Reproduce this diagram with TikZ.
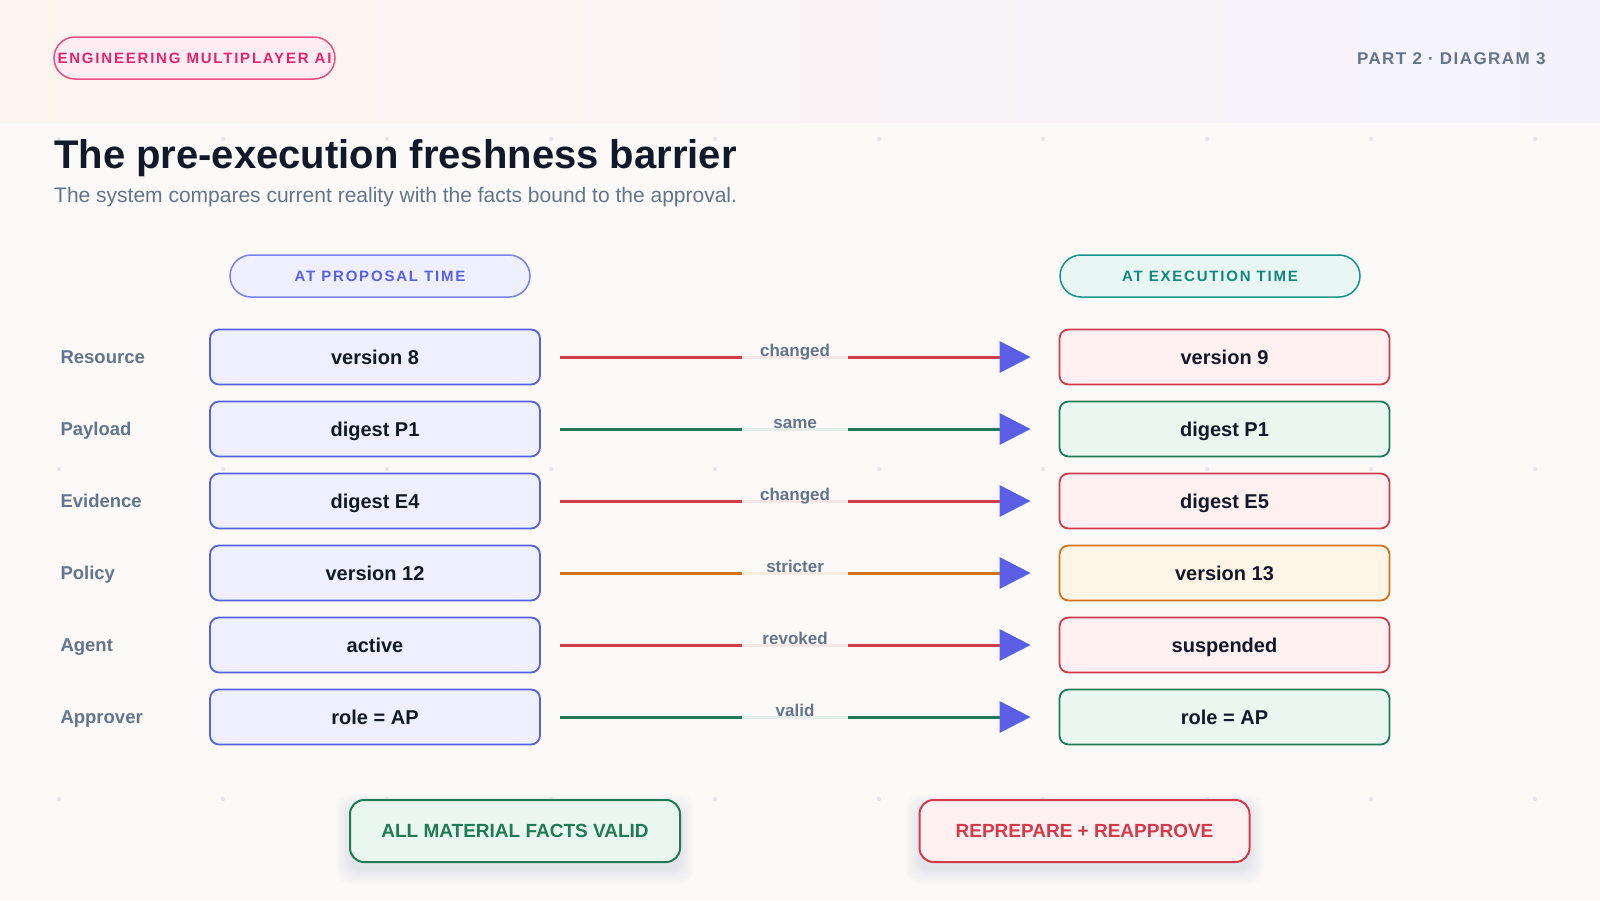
\documentclass[tikz,border=0pt]{standalone}
\usepackage{fontspec}
\setmainfont{Liberation Sans}
\newfontfamily\capsfont[LetterSpace=12]{Liberation Sans}
\newfontfamily\partfont[LetterSpace=8.5]{Liberation Sans}
\usetikzlibrary{arrows.meta}

\definecolor{pagebg}{HTML}{FBFAF8}
\definecolor{headleft}{HTML}{FEF4EE}
\definecolor{headright}{HTML}{F4F3FD}
\definecolor{dotcol}{HTML}{E6E6EE}
\definecolor{ink}{HTML}{111827}
\definecolor{slate}{HTML}{64748B}
\definecolor{pink}{HTML}{E5246A}
\definecolor{pinkline}{HTML}{EC4E82}
\definecolor{pinkfill}{HTML}{FDEDF3}
\definecolor{indigo}{HTML}{5B5FE6}
\definecolor{indigofill}{HTML}{EEF0FF}
\definecolor{teal}{HTML}{14958A}
\definecolor{tealfill}{HTML}{E9F7F4}
\definecolor{badline}{HTML}{D13B4B}
\definecolor{badfill}{HTML}{FFF1F2}
\definecolor{okline}{HTML}{1F7A55}
\definecolor{okfill}{HTML}{EAF7F0}
\definecolor{warnline}{HTML}{D17316}
\definecolor{warnfill}{HTML}{FFF5E6}
\definecolor{shadowcol}{HTML}{3A3F66}

\tikzset{
  rowlab/.style={anchor=base west, yshift=-6.6pt, text=slate, font=\fontsize{18.5}{22}\selectfont\bfseries},
  box/.style={rounded corners=9pt, line width=1.8pt, minimum width=330pt, minimum height=55pt, inner sep=0pt, text height=14.3pt, text depth=0pt, text=ink, font=\fontsize{20}{24}\selectfont\bfseries},
  propbox/.style={box, draw=indigo, fill=indigofill},
  badbox/.style={box, draw=badline, fill=badfill},
  okbox/.style={box, draw=okline, fill=okfill},
  warnbox/.style={box, draw=warnline, fill=warnfill},
  pill/.style={rounded corners=21pt, line width=1.5pt, minimum width=300pt, minimum height=42pt, inner sep=0pt, font=\capsfont\fontsize{15}{18}\selectfont\bfseries},
  link/.style={line width=3pt, draw=#1, shorten <=19pt, shorten >=28pt, -{Triangle[length=31pt,width=31pt,color=indigo]}},
  midlab/.style={pos=0.491, yshift=5pt, fill=pagebg, fill opacity=0.9, text opacity=1, text=slate, minimum width=106pt, inner ysep=3pt, text height=12.6pt, text depth=3.6pt, font=\fontsize{17}{20}\selectfont\bfseries},
  verdict/.style={rounded corners=14pt, line width=2pt, minimum width=330pt, minimum height=62pt, inner sep=0pt, font=\fontsize{19}{23}\selectfont\bfseries}
}

\begin{document}
\begin{tikzpicture}[x=1pt,y=-1pt]
\useasboundingbox (0,0) rectangle (1600,900);
\fill[pagebg] (0,0) rectangle (1600,900);
\shade[left color=headleft, right color=headright] (0,0) rectangle (1600,122);
%Dot grid
\foreach \i in {0,...,9}
  \foreach \j in {139,469,799}
    \fill[dotcol] (59+164*\i,\j) circle (2.2pt);
%Header
\node[pill, minimum width=281pt, draw=pinkline, fill=pinkfill, text=pink] (tag) at (194.5,58) {ENGINEERING MULTIPLAYER AI};
\node[anchor=base east, text=slate, font=\partfont\fontsize{17}{20}\selectfont\bfseries] (part) at (1549,64) {PART 2 · DIAGRAM 3};
\node[anchor=base west, inner sep=0pt, text=ink, font=\fontsize{40}{48}\selectfont\bfseries] (title) at (54,168) {The pre-execution freshness barrier};
\node[anchor=base west, inner sep=0pt, text=slate, font=\fontsize{21}{25}\selectfont] (sub) at (54,202) {The system compares current reality with the facts bound to the approval.};
%Column heads
\node[pill, draw=indigo!80, fill=indigofill, text=indigo] (prophead) at (380,276) {AT PROPOSAL TIME};
\node[pill, draw=teal, fill=tealfill, text=teal!90!black] (exechead) at (1210,276) {AT EXECUTION TIME};
%Rows
\node[rowlab] (lab1) at (57,357) {Resource};
\node[propbox] (p1) at (375,357) {version 8};
\node[badbox] (e1) at (1224.5,357) {version 9};
\draw[link=badline] (p1) -- (e1) node[midlab] {changed};

\node[rowlab] (lab2) at (57,429) {Payload};
\node[propbox] (p2) at (375,429) {digest P1};
\node[okbox] (e2) at (1224.5,429) {digest P1};
\draw[link=okline] (p2) -- (e2) node[midlab] {same};

\node[rowlab] (lab3) at (57,501) {Evidence};
\node[propbox] (p3) at (375,501) {digest E4};
\node[badbox] (e3) at (1224.5,501) {digest E5};
\draw[link=badline] (p3) -- (e3) node[midlab] {changed};

\node[rowlab] (lab4) at (57,573) {Policy};
\node[propbox] (p4) at (375,573) {version 12};
\node[warnbox] (e4) at (1224.5,573) {version 13};
\draw[link=warnline] (p4) -- (e4) node[midlab] {stricter};

\node[rowlab] (lab5) at (57,645) {Agent};
\node[propbox] (p5) at (375,645) {active};
\node[badbox] (e5) at (1224.5,645) {suspended};
\draw[link=badline] (p5) -- (e5) node[midlab] {revoked};

\node[rowlab] (lab6) at (57,717) {Approver};
\node[propbox] (p6) at (375,717) {role = AP};
\node[okbox] (e6) at (1224.5,717) {role = AP};
\draw[link=okline] (p6) -- (e6) node[midlab] {valid};
%Outcomes, soft shadow first
\foreach \cx in {515,1084.5}
  \foreach \k in {0,2,...,14}
    \fill[shadowcol, opacity=0.01, rounded corners=14pt] (\cx-165-\k,808-\k) rectangle (\cx+165+\k,870+\k);
\node[verdict, draw=okline, fill=okfill, text=okline] (pass) at (515,831) {ALL MATERIAL FACTS VALID};
\node[verdict, draw=badline, fill=badfill, text=badline] (redo) at (1084.5,831) {REPREPARE + REAPPROVE};
\end{tikzpicture}
\end{document}
